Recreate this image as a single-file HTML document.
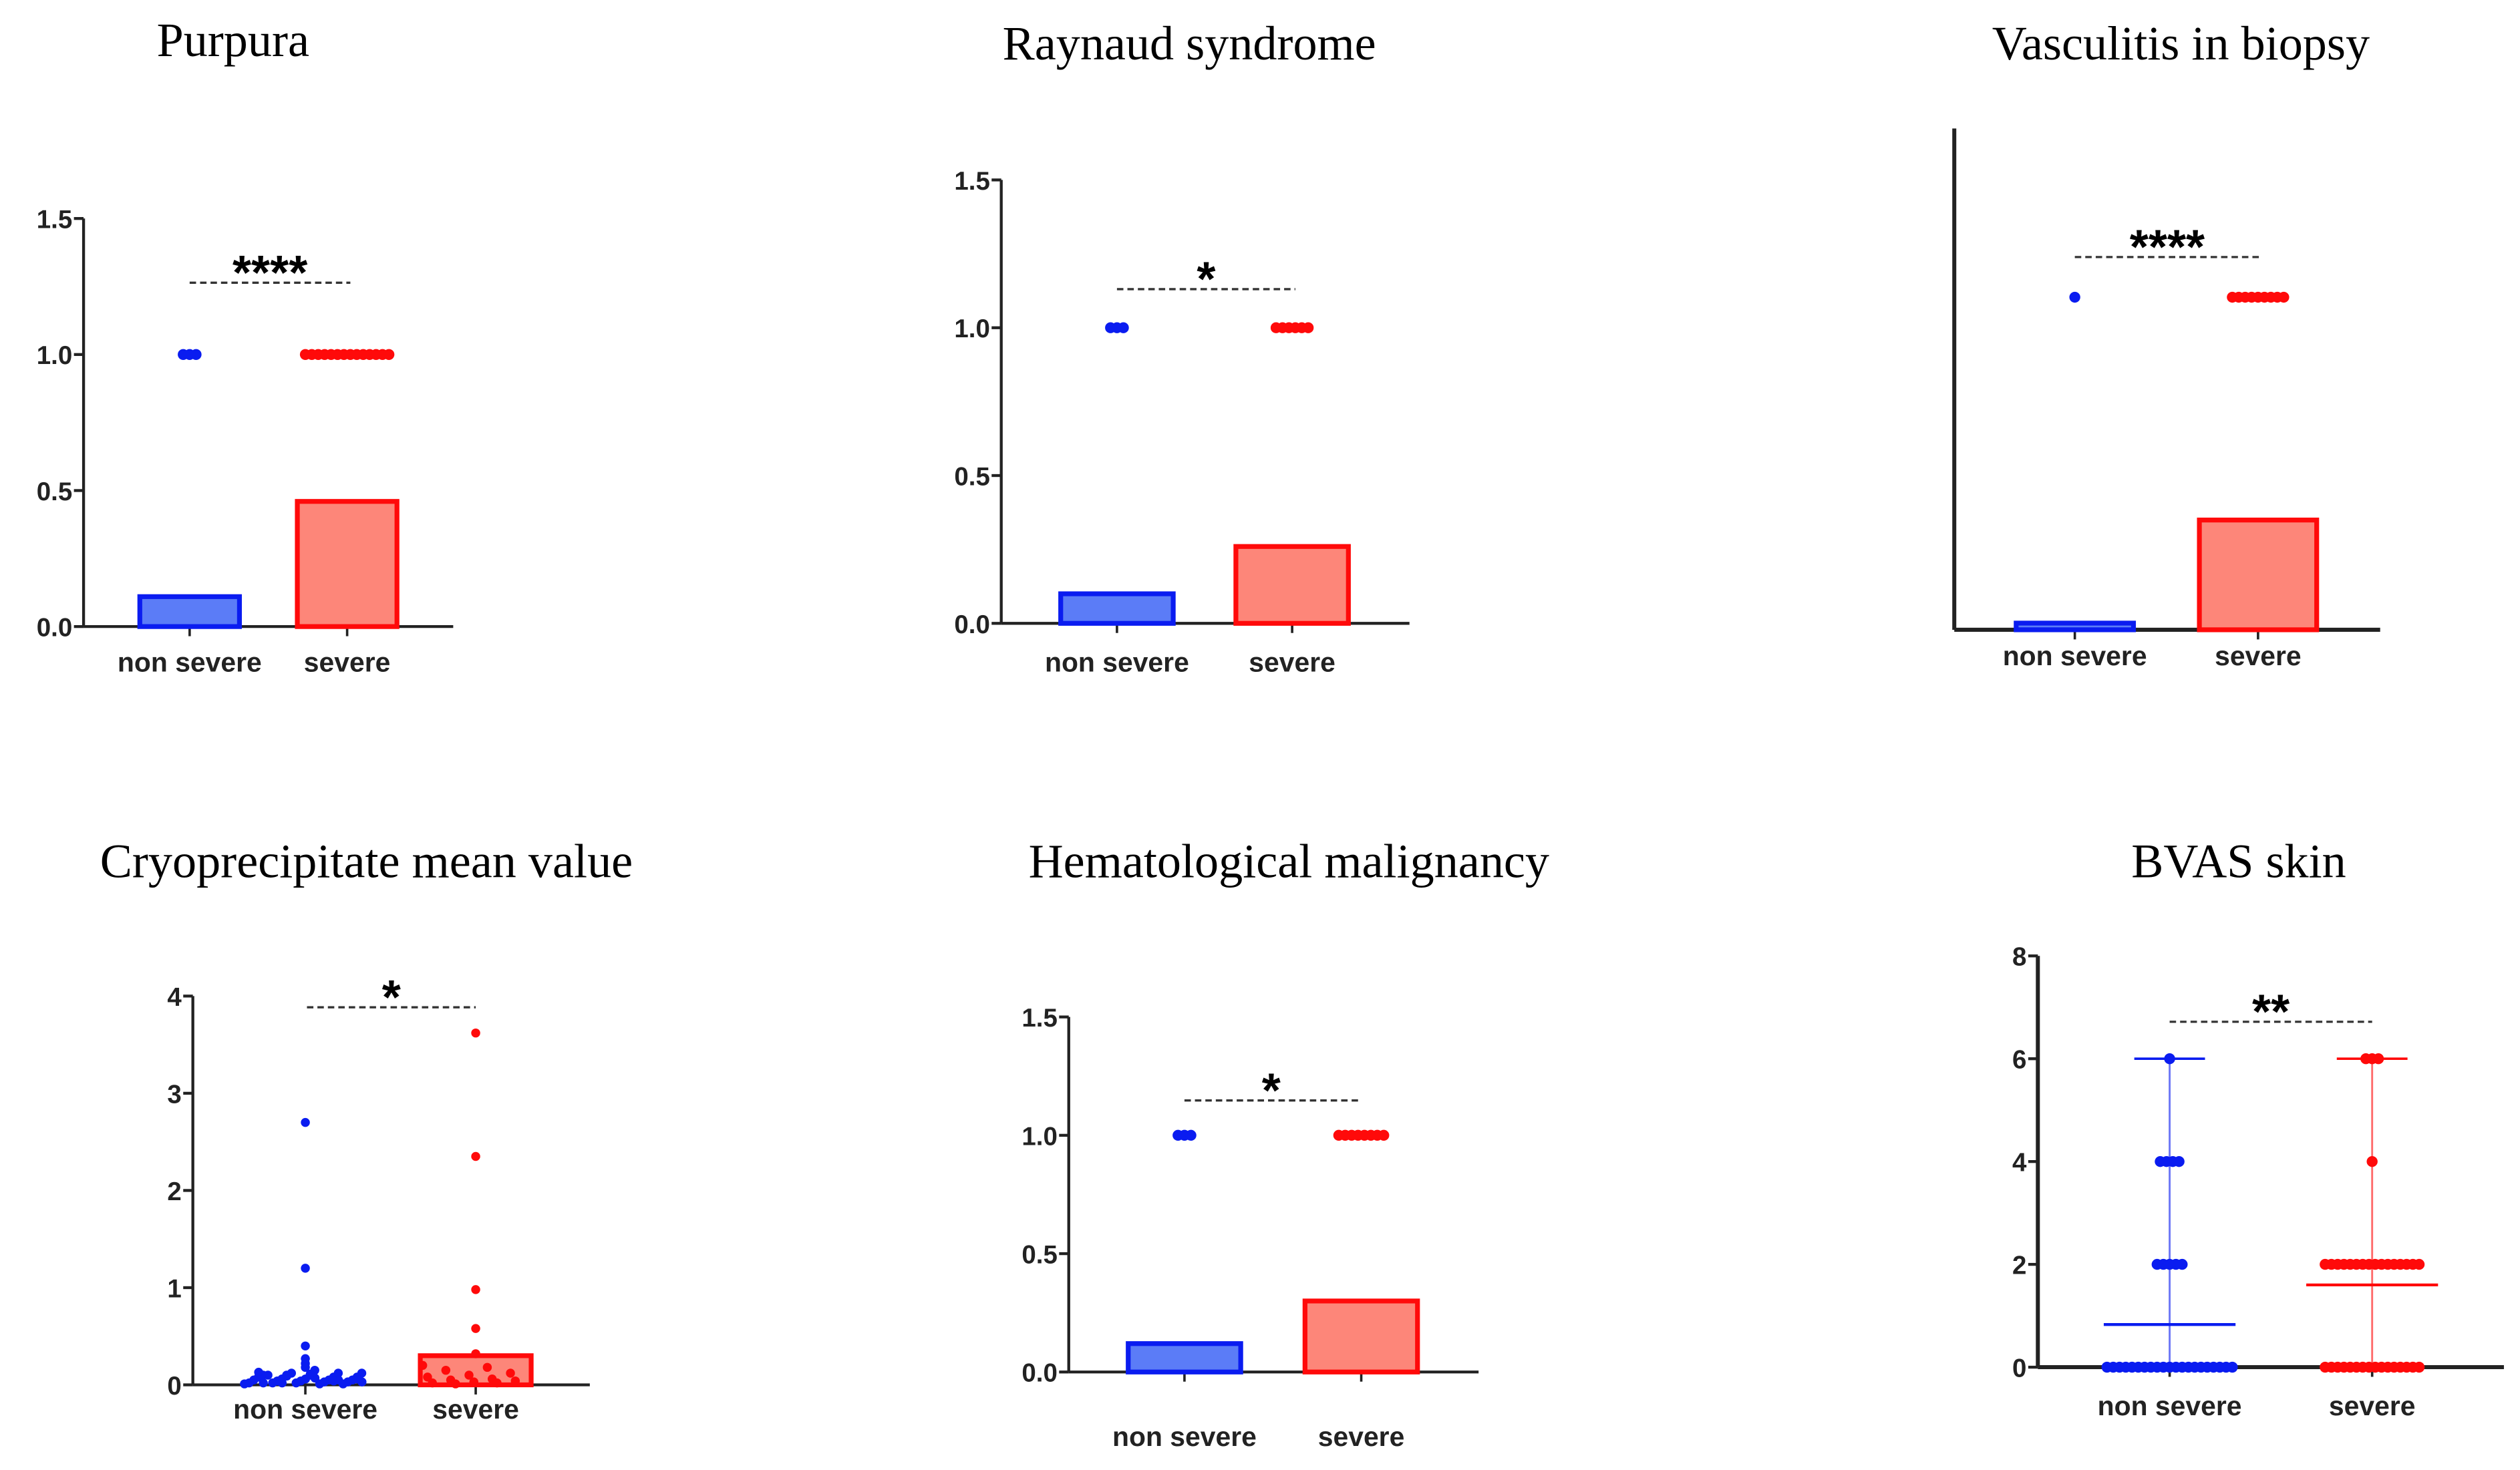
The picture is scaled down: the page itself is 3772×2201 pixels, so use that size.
<!DOCTYPE html>
<html><head><meta charset="utf-8">
<style>
html,body{margin:0;padding:0;background:#fff;}
svg{display:block;}
.title{font-family:"Liberation Serif",serif;font-size:30px;fill:#000;}
.tick{font-family:"Liberation Sans",sans-serif;font-weight:bold;font-size:16px;fill:#222;}
.cat{font-family:"Liberation Sans",sans-serif;font-weight:bold;font-size:17px;fill:#222;}
.sig{font-family:"Liberation Sans",sans-serif;font-weight:bold;font-size:30px;fill:#000;}
</style></head>
<body>
<svg id="fig" width="3772" height="2201" viewBox="0 0 1568 915" preserveAspectRatio="none" xmlns="http://www.w3.org/2000/svg"></svg>
<script>
// ---- data ----
const categories = ["non severe", "severe"];
const purpuraMeans = [0.11, 0.46];
const purpuraDotCounts = [3, 14];
const raynaudMeans = [0.10, 0.26];
const raynaudDotCounts = [3, 6];
const vasculitisMeans = [0.02, 0.33];
const vasculitisDotCounts = [1, 9];
const hemaMeans = [0.12, 0.30];
const hemaDotCounts = [3, 8];
const cryoMeans = [0.0, 0.30];
const cryoBlueValues = [2.7, 1.2, 0.4, 0.27, 0.22, 0.18, 0.15, 0.12, 0.12, 0.1, 0.1, 0.1, 0.08, 0.08, 0.08, 0.06, 0.06, 0.05, 0.05, 0.05, 0.04, 0.04, 0.03, 0.03, 0.02, 0.02, 0.02, 0.01, 0.01, 0.01, 0.1, 0.12, 0.07, 0.05, 0.03, 0.02, 0.09, 0.11, 0.04, 0.06, 0.13, 0.02];
const cryoRedValues = [3.62, 2.35, 0.98, 0.58, 0.32, 0.2, 0.18, 0.15, 0.12, 0.1, 0.08, 0.06, 0.05, 0.04, 0.03, 0.02, 0.02, 0.01];
const bvasBlueValues = [6, 4, 4, 4, 4, 2, 2, 2, 2, 2, 0, 0, 0, 0, 0, 0, 0, 0, 0, 0, 0, 0, 0, 0, 0, 0, 0, 0, 0, 0, 0];
const bvasRedValues = [6, 6, 6, 4, 2, 2, 2, 2, 2, 2, 2, 2, 2, 2, 2, 2, 2, 2, 2, 2, 0, 0, 0, 0, 0, 0, 0, 0, 0, 0, 0, 0, 0, 0, 0, 0];
const bvasMeans = [0.83, 1.6];
const bvasRanges = [[0, 6], [0, 6]];
const binaryTicks = [0, 0.5, 1.0, 1.5];
const binaryTickLabels = ["0.0", "0.5", "1.0", "1.5"];
const cryoTicks = [0, 1, 2, 3, 4];
const bvasTicks = [0, 2, 4, 6, 8];

const NS = "http://www.w3.org/2000/svg";
const svg = document.getElementById("fig");
function el(tag, attrs, parent, text) {
  const e = document.createElementNS(NS, tag);
  for (const k in attrs) e.setAttribute(k, attrs[k]);
  if (text !== undefined) e.textContent = text;
  (parent || svg).appendChild(e);
  return e;
}
const BLUE = "#0a1cf0", RED = "#ff0a0a";
const BLUE_FILL = "#5b7cf7", RED_FILL = "#fd8679";

function makePanel(p) {
  const g = el("g", {});
  
  
  const yScale = v => p.y0 + (v - p.vmin) / (p.vmax - p.vmin) * (p.y1 - p.y0);
  const t = el("text", {class: "title", x: p.titleX, y: p.titleY, "text-anchor": "middle"}, g, p.title);
  
  
  const ya = el("line", {x1: p.ax, y1: p.axTop, x2: p.ax, y2: p.y0, stroke: "#222", "stroke-width": p.axW || 1.8}, g);
  
  
  const xa = el("line", {x1: p.ax, y1: p.y0, x2: p.axRight, y2: p.y0, stroke: "#222", "stroke-width": p.axW || 1.8}, g);
  
  
  if (p.ticks) p.ticks.forEach((v, i) => {
    const y = yScale(v);
    el("line", {x1: p.ax - 6, y1: y, x2: p.ax, y2: y, stroke: "#222", "stroke-width": 1.8}, g);
    const tl = el("text", {class: "tick", x: p.ax - 7, y: y + 6, "text-anchor": "end"}, g, p.tickLabels ? p.tickLabels[i] : String(v));
    
    
  });
  categories.forEach((c, i) => {
    const cx = p.cx[i];
    el("line", {x1: cx, y1: p.y0, x2: cx, y2: p.y0 + 6, stroke: "#222", "stroke-width": 1.5}, g);
    const cl = el("text", {class: "cat", x: cx, y: p.catY, "text-anchor": "middle"}, g, c);
    
    
  });
  if (p.means) p.means.forEach((m, i) => {
    if (m <= 0) return;
    const yTop = yScale(m);
    const b = el("rect", {x: p.cx[i] - p.barW / 2, y: yTop, width: p.barW, height: Math.max(p.y0 - yTop, 2),
      fill: i ? RED_FILL : BLUE_FILL, stroke: i ? RED : BLUE, "stroke-width": 3}, g);
    
    
  });
  if (p.dotCounts) p.dotCounts.forEach((n, i) => {
    const y = yScale(1);
    const spacing = 4;
    for (let k = 0; k < n; k++) {
      const x = p.cx[i] + (k - (n - 1) / 2) * spacing;
      const d = el("circle", {cx: x, cy: y, r: 3.4, fill: i ? RED : BLUE}, g);
      
      
    }
  });
  if (p.values) p.values.forEach((vals, i) => {
    const groups = {};
    vals.forEach(v => { groups[v] = (groups[v] || 0) + 1; });
    const seen = {};
    const small = vals.filter(v => v < p.spreadBelow).length;
    let si = 0;
    vals.forEach(v => {
      let x;
      if (p.spreadBelow && v < p.spreadBelow) {
        const f = small > 1 ? si / (small - 1) : 0.5;
        si++;
        const w = p.spread[i];
        // interleave so heights are mixed across width
        x = p.cx[i] + ((f * 7.31) % 1 - 0.5) * w;
        if (v > 0.15 && i === 0) x = p.cx[i];
      } else if (p.spreadBelow) {
        x = p.cx[i];
      } else {
        const n = groups[v];
        const k = seen[v] = (seen[v] || 0) + 1;
        x = p.cx[i] + (k - 1 - (n - 1) / 2) * p.dotSpacing;
      }
      const d = el("circle", {cx: x, cy: yScale(v), r: p.dotR, fill: i ? RED : BLUE}, g);
      
      
    });
  });
  if (p.ranges) p.ranges.forEach((r, i) => {
    const col = i ? RED : BLUE;
    const cx = p.cx[i];
    el("line", {x1: cx, y1: yScale(r[0]), x2: cx, y2: yScale(r[1]), stroke: col, "stroke-width": 1.2, opacity: 0.6}, g);
    el("line", {x1: cx - 22, y1: yScale(r[1]), x2: cx + 22, y2: yScale(r[1]), stroke: col, "stroke-width": 1.5}, g);
    const ml = el("line", {x1: cx - 41, y1: yScale(p.lineMeans[i]), x2: cx + 41, y2: yScale(p.lineMeans[i]), stroke: col, "stroke-width": 1.8}, g);
    
    
  });
  const dl = el("line", {x1: p.sigX1, y1: p.sigY, x2: p.sigX2, y2: p.sigY, stroke: "#333", "stroke-width": 1.4, "stroke-dasharray": "4,2.5"}, g);
  
  
  const st = el("text", {class: "sig", x: (p.sigX1 + p.sigX2) / 2, y: p.sigY + 4, "text-anchor": "middle"}, g, p.stars);
  
  
}

makePanel({name: "purpura", title: "Purpura", titleX: 145, titleY: 35, ax: 52, axTop: 136, axRight: 282,
  y0: 390, y1: 136, vmin: 0, vmax: 1.5, ticks: binaryTicks, tickLabels: binaryTickLabels,
  cx: [118, 216], catY: 418, barW: 62, means: purpuraMeans, dotCounts: purpuraDotCounts,
  sigX1: 118, sigX2: 218, sigY: 176, stars: "****"});
makePanel({name: "raynaud", title: "Raynaud syndrome", titleX: 740, titleY: 37, ax: 623, axTop: 112, axRight: 877,
  y0: 388, y1: 112, vmin: 0, vmax: 1.5, ticks: binaryTicks, tickLabels: binaryTickLabels,
  cx: [695, 804], catY: 418, barW: 70, means: raynaudMeans, dotCounts: raynaudDotCounts,
  sigX1: 695, sigX2: 806, sigY: 180, stars: "*"});
makePanel({name: "vasculitis", title: "Vasculitis in biopsy", titleX: 1357, titleY: 37, ax: 1216, axTop: 80, axRight: 1481,
  y0: 392, y1: 185, vmin: 0, vmax: 1.0, axW: 2.5,
  cx: [1291, 1405], catY: 414, barW: 73, means: vasculitisMeans, dotCounts: vasculitisDotCounts,
  sigX1: 1291, sigX2: 1406, sigY: 160, stars: "****"});
makePanel({name: "cryo", title: "Cryoprecipitate mean value", titleX: 228, titleY: 546, ax: 120, axTop: 620, axRight: 367,
  y0: 862, y1: 620, vmin: 0, vmax: 4, ticks: cryoTicks,
  cx: [190, 296], catY: 883, barW: 69, means: cryoMeans, values: [cryoBlueValues, cryoRedValues], dotR: 2.8, dotSpacing: 2.4,
  spreadBelow: 0.3, spread: [76, 66],
  sigX1: 191, sigX2: 296, sigY: 627, stars: "*"});
makePanel({name: "hematological", title: "Hematological malignancy", titleX: 802, titleY: 546, ax: 665, axTop: 633, axRight: 920,
  y0: 854, y1: 633, vmin: 0, vmax: 1.5, ticks: binaryTicks, tickLabels: binaryTickLabels,
  cx: [737, 847], catY: 900, barW: 70, means: hemaMeans, dotCounts: hemaDotCounts,
  sigX1: 737, sigX2: 845, sigY: 685, stars: "*"});
makePanel({name: "bvas", title: "BVAS skin", titleX: 1393, titleY: 546, ax: 1268, axTop: 595, axRight: 1558,
  y0: 851, y1: 595, vmin: 0, vmax: 8, ticks: bvasTicks, axW: 2.5,
  cx: [1350, 1476], catY: 881, barW: 0, values: [bvasBlueValues, bvasRedValues], dotR: 3.4, dotSpacing: 3.9,
  ranges: bvasRanges, lineMeans: bvasMeans,
  sigX1: 1350, sigX2: 1476, sigY: 636, stars: "**"});
</script>
</body></html>
